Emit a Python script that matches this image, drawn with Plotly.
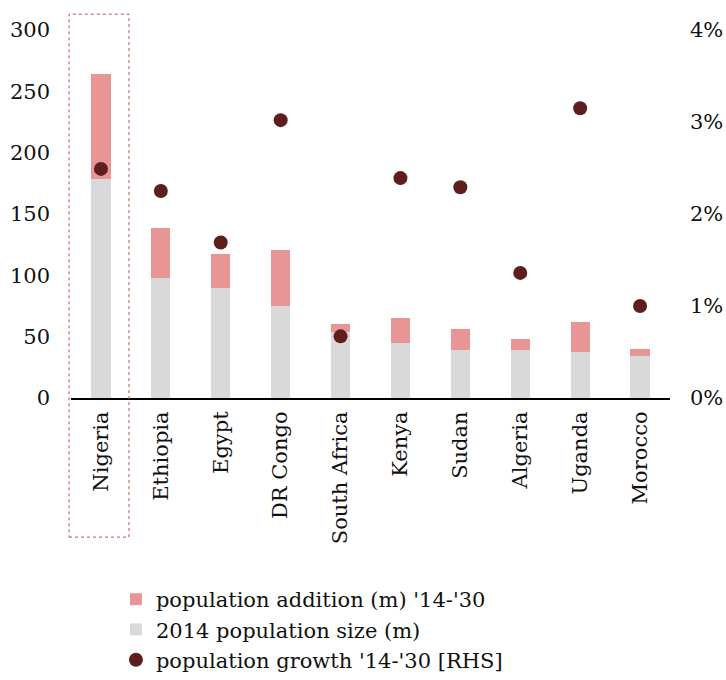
import plotly.graph_objects as go

countries = ["Nigeria", "Ethiopia", "Egypt", "DR Congo", "South Africa",
             "Kenya", "Sudan", "Algeria", "Uganda", "Morocco"]
pop_2014 = [178.5, 97.5, 89.9, 75.4, 54.2, 45.2, 39.5, 39.0, 37.8, 34.1]
pop_addition = [85.5, 41.4, 27.7, 45.5, 6.3, 20.2, 16.9, 9.2, 24.3, 5.9]
growth_pct = [2.49, 2.25, 1.69, 3.02, 0.67, 2.39, 2.29, 1.36, 3.15, 1.00]
left_ticks = [0, 50, 100, 150, 200, 250, 300]
right_ticks = [0, 1, 2, 3, 4]
right_tick_labels = ["0%", "1%", "2%", "3%", "4%"]

FONT = "DejaVu Serif"
FS = 21

fig = go.Figure()
fig.add_trace(go.Bar(x=countries, y=pop_2014, name="2014 population size (m)",
                     marker=dict(color="#d9d9d9", line=dict(width=0)),
                     legendrank=2, legendgroup="b"))
fig.add_trace(go.Bar(x=countries, y=pop_addition, name="population addition (m) '14-'30",
                     marker=dict(color="#e89595", line=dict(width=0)),
                     legendrank=1, legendgroup="a"))
fig.add_trace(go.Scatter(x=countries, y=growth_pct, name="population growth '14-'30 [RHS]",
                         mode="markers", yaxis="y2",
                         marker=dict(color="#5e1e1e", size=14),
                         legendrank=3, legendgroup="c"))

fig.update_layout(
    width=726, height=680,
    margin=dict(l=71, r=56, t=30, b=282),
    plot_bgcolor="white", paper_bgcolor="white",
    barmode="stack", bargap=0.68,
    font=dict(family=FONT, size=FS, color="#111111"),
    showlegend=True,
    legend=dict(xref="paper", yref="container", x=0.075, y=0.0,
                xanchor="left", yanchor="bottom",
                font=dict(size=FS, family=FONT), traceorder="normal",
                tracegroupgap=12, itemwidth=30, bgcolor="rgba(0,0,0,0)"),
    xaxis=dict(type="category", range=[-0.5, 9.5], showline=True,
               linecolor="black", linewidth=2,
               ticks="", tickangle=-90, tickfont=dict(size=FS, family=FONT),
               ticklabelstandoff=3,
               showgrid=False, zeroline=False, automargin=False),
    yaxis=dict(range=[0, 300], tickvals=left_ticks,
               showgrid=False, zeroline=False, showline=False, ticks="",
               tickfont=dict(size=FS, family=FONT), ticklabelstandoff=20,
               automargin=False),
    yaxis2=dict(range=[0, 4], overlaying="y", side="right",
                tickvals=right_ticks, ticktext=right_tick_labels,
                showgrid=False, zeroline=False, showline=False, ticks="",
                tickfont=dict(size=FS, family=FONT), ticklabelstandoff=19,
                automargin=False),
)

fig.add_shape(type="rect", xref="paper", yref="paper",
              x0=-0.0033, x1=0.0968, y0=-0.378, y1=1.043,
              line=dict(color="#c0504d", width=1, dash="dot"),
              fillcolor="rgba(0,0,0,0)", layer="above")

fig.write_html("out.html", config={"displayModeBar": False},
               post_script="document.body.style.margin='0';document.body.style.overflow='hidden';")
